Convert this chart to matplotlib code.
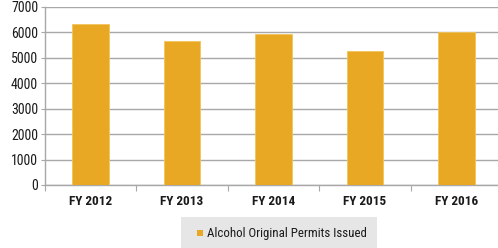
import matplotlib
matplotlib.use("Agg")
import matplotlib.pyplot as plt
from matplotlib.patches import Rectangle

categories = ["FY 2012", "FY 2013", "FY 2014", "FY 2015", "FY 2016"]
values = [6350, 5670, 5950, 5270, 6020]
yticks = [0, 1000, 2000, 3000, 4000, 5000, 6000, 7000]
series_name = "Alcohol Original Permits Issued"

plt.rcParams['font.family'] = ["Roboto Condensed", "DejaVu Sans"]

W, H = 498, 248
fig = plt.figure(figsize=(W/100, H/100), dpi=100)
left, right, bottom, top = 45/W, 502/W, 1 - 185/H, 1 - 7/H
ax = fig.add_axes([left, bottom, right-left, top-bottom])

bar_color = "#E8A823"
x = list(range(len(categories)))
ax.bar(x, values, width=0.4, color=bar_color, edgecolor="#F2C45A", linewidth=0.6, zorder=3)
ax.set_xlim(-0.5, len(categories)-0.5)
ax.set_ylim(0, 7000)
ax.set_yticks(yticks)
ax.set_yticklabels([str(v) for v in yticks], fontsize=10, color="#1a1a1a")
ax.yaxis.grid(True, color="#A8A8A8", linewidth=1.0, zorder=0)
ax.set_axisbelow(True)
ax.tick_params(axis='y', length=3, color="#A8A8A8", pad=2)

ax.set_xticks([i - 0.5 for i in range(len(categories)+1)])
ax.set_xticklabels([])
ax.set_xticks(x, minor=True)
ax.set_xticklabels(categories, minor=True, fontsize=9.5, fontweight='bold', color="#1a1a1a")
ax.tick_params(axis='x', which='major', length=4, color="#A8A8A8")
ax.tick_params(axis='x', which='minor', length=0, pad=7)

for s in ['top', 'right']:
    ax.spines[s].set_visible(False)
for s in ['left', 'bottom']:
    ax.spines[s].set_color("#A8A8A8")
    ax.spines[s].set_linewidth(1.0)

# legend box
fig.patches.append(Rectangle((181/W, 1-248/H), 196/W, 31/H, transform=fig.transFigure,
                             facecolor="#E6E6E6", edgecolor="none"))
fig.patches.append(Rectangle((197/W, 1-236/H), 6/W, 6/H, transform=fig.transFigure,
                             facecolor=bar_color, edgecolor="none"))
fig.text(207/W, 1-233/H, series_name, fontsize=9.3, va='center', ha='left', color="#1a1a1a")

fig.savefig("out.png", dpi=100)
